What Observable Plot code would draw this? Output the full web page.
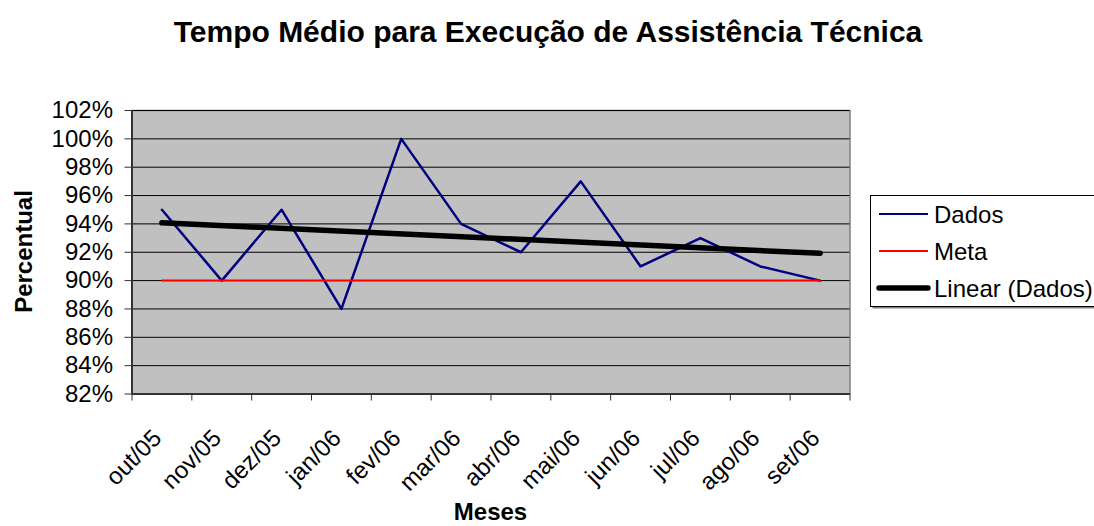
<!DOCTYPE html>
<html>
<head>
<meta charset="utf-8">
<script src="https://cdn.jsdelivr.net/npm/d3@7"></script>
<script src="https://cdn.jsdelivr.net/npm/@observablehq/plot@0.6"></script>
<style>
  html, body { margin: 0; padding: 0; background: #fff; }
  #wrap { position: relative; width: 1094px; height: 526px; overflow: hidden; font-family: "Liberation Sans", Arial, sans-serif; }
  #overlay { position: absolute; left: 0; top: 0; pointer-events: none; }
</style>
</head>
<body>
<div id="wrap"></div>
<script>
const months = ["out/05","nov/05","dez/05","jan/06","fev/06","mar/06","abr/06","mai/06","jun/06","jul/06","ago/06","set/06"];
const dados = [95, 90, 95, 88, 100, 94, 92, 97, 91, 93, 91, 90];
const meta = [90, 90, 90, 90, 90, 90, 90, 90, 90, 90, 90, 90];
const yTicks = [82, 84, 86, 88, 90, 92, 94, 96, 98, 100, 102];
const titleText = "Tempo Médio para Execução de Assistência Técnica";
const xTitle = "Meses";
const yTitle = "Percentual";
const seriesNames = ["Dados", "Meta", "Linear (Dados)"];

const rows = months.map((m, i) => ({i: i + 0.5, month: m, dados: dados[i], meta: meta[i]}));
const gridTicks = yTicks.filter(t => t > 82);

const chart = Plot.plot({
  width: 1094,
  height: 526,
  marginLeft: 131.5,
  marginRight: 244.5,
  marginTop: 110,
  marginBottom: 132.5,
  style: {background: "transparent", fontFamily: "'Liberation Sans', Arial, sans-serif", fontSize: "24px", color: "#000"},
  x: {type: "linear", domain: [0, months.length]},
  y: {type: "linear", domain: [82, 102]},
  marks: [
    Plot.frame({fill: "#C0C0C0", stroke: "#808080", strokeWidth: 1.5}),
    Plot.ruleY(gridTicks, {stroke: "#000", strokeWidth: 1}),
    Plot.axisY({ticks: yTicks, tickSize: 7, tickPadding: 12, tickFormat: d => d + "%", label: null, fontSize: 24, stroke: "#333"}),
    Plot.axisX({ticks: d3.range(0, months.length + 1), tickSize: 7, tickFormat: () => "", label: null, stroke: "#333"}),
    Plot.ruleX([0], {stroke: "#333", strokeWidth: 2}),
    Plot.ruleY([82], {stroke: "#333", strokeWidth: 2}),
    Plot.text(rows, {x: "i", text: "month", frameAnchor: "bottom", dy: 45.5, dx: 1, rotate: -45, textAnchor: "end", lineAnchor: "bottom", fontSize: 24, fill: "#000"}),
    Plot.line(rows, {x: "i", y: "dados", stroke: "#000080", strokeWidth: 2.5}),
    Plot.line(rows, {x: "i", y: "meta", stroke: "#FF0000", strokeWidth: 2}),
    Plot.linearRegressionY(rows, {x: "i", y: "dados", ci: 0, stroke: "#000", strokeWidth: 5.5, strokeLinecap: "round"})
  ]
});
const wrap = document.getElementById("wrap");
wrap.appendChild(chart);

// Overlay: title, axis titles, legend
const ns = "http://www.w3.org/2000/svg";
const ov = d3.select(wrap).append("svg")
  .attr("id", "overlay").attr("width", 1094).attr("height", 526)
  .attr("xmlns", ns)
  .style("font-family", "'Liberation Sans', Arial, sans-serif");

ov.append("text").attr("x", 548).attr("y", 42).attr("text-anchor", "middle")
  .attr("font-size", 30).attr("font-weight", "bold").text(titleText);
ov.append("text").attr("x", 490.5).attr("y", 520).attr("text-anchor", "middle")
  .attr("font-size", 24).attr("font-weight", "bold").text(xTitle);
ov.append("text").attr("transform", "translate(32,251.5) rotate(-90)").attr("text-anchor", "middle")
  .attr("font-size", 24).attr("font-weight", "bold").text(yTitle);

// Legend
const lg = ov.append("g");
lg.append("rect").attr("x", 872.5).attr("y", 197.5).attr("width", 240).attr("height", 111).attr("fill", "#808080");
lg.append("rect").attr("x", 870.5).attr("y", 195.5).attr("width", 240).attr("height", 111).attr("fill", "#fff").attr("stroke", "#000").attr("stroke-width", 1);
const legendStyles = [
  {stroke: "#000080", w: 2, cap: "butt"},
  {stroke: "#FF0000", w: 2, cap: "butt"},
  {stroke: "#000", w: 5.5, cap: "round"}
];
seriesNames.forEach((name, k) => {
  const cy = 214 + k * 37;
  const s = legendStyles[k];
  lg.append("line").attr("x1", 879).attr("x2", 928).attr("y1", cy).attr("y2", cy)
    .attr("stroke", s.stroke).attr("stroke-width", s.w).attr("stroke-linecap", s.cap);
  lg.append("text").attr("x", 934).attr("y", cy + 8.5).attr("font-size", 24).text(name);
});
</script>
</body>
</html>
